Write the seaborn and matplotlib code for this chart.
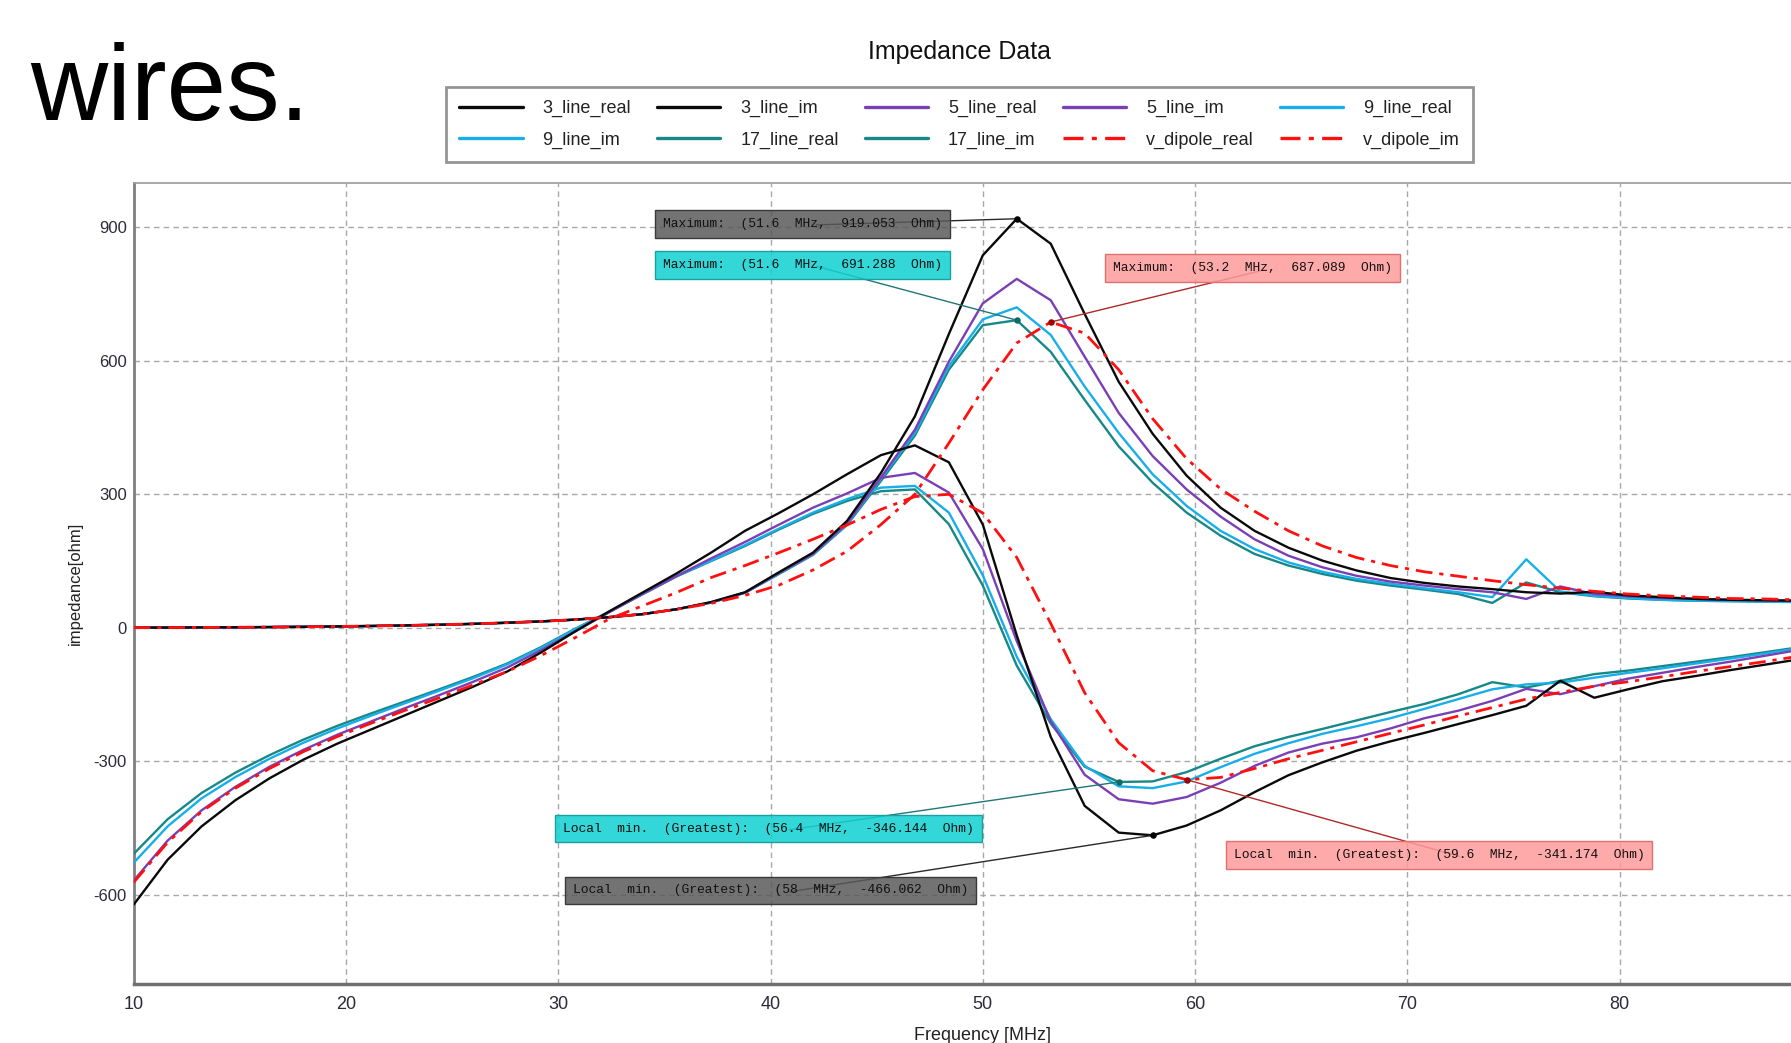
import numpy as np
import pandas as pd
import matplotlib
matplotlib.use("Agg")
import matplotlib.pyplot as plt
import matplotlib.colors as mcolors
from matplotlib import font_manager
import seaborn as sns

# frequency grid [MHz]
freq = [10.0, 11.6, 13.2, 14.8, 16.4, 18.0, 19.6, 21.2, 22.8, 24.4, 26.0, 27.6, 29.2,
        30.8, 32.4, 34.0, 35.6, 37.2, 38.8, 40.4, 42.0, 43.6, 45.2, 46.8, 48.4, 50.0,
        51.6, 53.2, 54.8, 56.4, 58.0, 59.6, 61.2, 62.8, 64.4, 66.0, 67.6, 69.2, 70.8,
        72.4, 74.0, 75.6, 77.2, 78.8, 80.4, 82.0, 83.6, 85.2, 86.8, 88.4, 90.0]

low_real = [0.5, 0.7, 1.0, 1.3, 1.8, 2.4, 3.2, 4.2, 5.5, 7.0, 9.0, 11.5, 14.5, 18.5]

line3_real = low_real + [24, 31, 42, 58, 80, 125, 169, 240, 348, 475, 660, 837, 919.053, 863, 705,
                         553, 436, 342, 270, 218, 180, 151, 129, 112, 101, 93, 87, 80, 77, 81,
                         73, 69, 65, 63, 62, 61, 60]
line3_im = [-622, -521, -446, -387, -338, -296, -260, -228, -196, -164, -132, -98, -55, -8,
            37, 80, 123, 169, 218, 258, 300, 345, 388, 410, 372, 232, -17, -245, -400, -460,
            -466.062, -444, -410, -369, -331, -302, -276, -255, -236, -216, -196, -175, -119,
            -157, -138, -120, -108, -95, -83, -71, -62]

line5_real = low_real + [24, 31, 42, 57, 79, 123, 166, 235, 338, 445, 598, 729, 784, 736, 609,
                         483, 386, 311, 250, 199, 162, 136, 117, 104, 95, 87, 80, 65, 93, 76,
                         71, 67, 65, 63, 62, 61, 60]
line5_im = [-568, -478, -410, -357, -312, -274, -240, -210, -180, -151, -121, -89, -50, -8,
            35, 77, 117, 156, 193, 232, 270, 302, 337, 348, 304, 177, -30, -210, -330, -385,
            -395, -380, -348, -310, -280, -260, -246, -226, -203, -186, -164, -137, -149,
            -131, -114, -101, -88, -76, -63, -50, -42]

line9_real = low_real + [24, 31, 42, 57, 79, 122, 165, 233, 335, 438, 588, 693, 720, 658, 542,
                         438, 345, 274, 218, 177, 147, 126, 110, 99, 89, 80, 69, 154, 82, 72,
                         67, 63, 61, 60, 59, 58, 58]
line9_im = [-528, -446, -383, -335, -294, -258, -226, -197, -169, -141, -113, -82, -45, -3,
            36, 77, 117, 151, 186, 223, 259, 289, 315, 319, 259, 118, -65, -205, -310, -356,
            -360, -345, -313, -283, -259, -238, -221, -203, -182, -160, -138, -127, -123,
            -112, -101, -91, -80, -69, -58, -46, -38]

line17_real = low_real + [24, 31, 42, 57, 79, 121, 164, 231, 330, 432, 580, 680, 691.288, 620,
                          512, 408, 326, 259, 207, 166, 140, 121, 106, 95, 86, 76, 56, 102, 80,
                          71, 66, 63, 61, 60, 59, 58, 57]
line17_im = [-508, -430, -371, -325, -286, -251, -220, -192, -165, -138, -110, -80, -43, -2,
             36, 76, 116, 150, 184, 221, 256, 285, 307, 311, 233, 95, -85, -215, -312,
             -346.144, -345, -324, -294, -266, -245, -227, -208, -189, -171, -149, -122, -134,
             -119, -104, -96, -86, -76, -66, -55, -44, -36]

vdip_real = low_real + [24, 31, 42, 55, 73, 96, 130, 172, 232, 300, 415, 535, 640, 687.089, 662,
                        580, 470, 380, 312, 262, 218, 184, 158, 140, 126, 116, 106, 97, 89, 82,
                        76, 72, 69, 66, 65, 63, 62]
vdip_im = [-572, -482, -413, -360, -316, -278, -244, -214, -185, -157, -128, -98, -62, -22,
           20, 50, 80, 113, 140, 169, 199, 231, 266, 295, 300, 258, 158, 10, -146, -258,
           -321, -341.174, -336, -316, -294, -275, -256, -237, -218, -198, -179, -160, -145,
           -131, -121, -110, -98, -87, -76, -64, -56]

BLACK, PURPLE, CYAN, TEAL, RED = "#0a0a0a", "#7a3fb4", "#18aee8", "#178888", "#ff1010"
DASHDOT = (0, (6, 2.5, 1.5, 2.5))

series = [
    ("3_line_real", line3_real, BLACK, "-", 1.7, 6),
    ("3_line_im", line3_im, BLACK, "-", 1.7, 6),
    ("5_line_real", line5_real, PURPLE, "-", 1.7, 5),
    ("5_line_im", line5_im, PURPLE, "-", 1.7, 5),
    ("9_line_real", line9_real, CYAN, "-", 1.7, 4),
    ("9_line_im", line9_im, CYAN, "-", 1.7, 4),
    ("17_line_real", line17_real, TEAL, "-", 1.7, 3),
    ("17_line_im", line17_im, TEAL, "-", 1.7, 3),
    ("v_dipole_real", vdip_real, RED, DASHDOT, 2.0, 7),
    ("v_dipole_im", vdip_im, RED, DASHDOT, 2.0, 7),
]

sns.set_theme(style="white")
names = {f.name for f in font_manager.fontManager.ttflist}
NARROW = "Liberation Sans Narrow" if "Liberation Sans Narrow" in names else "Liberation Sans"
plt.rcParams["font.family"] = ["Liberation Sans", "DejaVu Sans"]
plt.rcParams["axes.unicode_minus"] = False

fig = plt.figure(figsize=(17.91, 10.43), dpi=100)
fig.patch.set_facecolor("white")
# axes run to 90 MHz, the right part is cut off by the figure edge
ax = fig.add_axes([0.0746, 0.0566, 0.9483, 0.7682])

for name, vals, color, ls, lw, z in series:
    sns.lineplot(x=freq, y=vals, ax=ax, color=color, linestyle=ls, linewidth=lw,
                 label=name, zorder=z)

ax.set_xlim(10, 90)
ax.set_ylim(-800, 1000)
ax.set_xticks(range(10, 81, 10))
ax.set_yticks([-600, -300, 0, 300, 600, 900])
ax.grid(True, color="#a8a8a8", linestyle=(0, (4, 3)), linewidth=1.0)
ax.tick_params(axis="both", length=0)
ax.tick_params(axis="y", pad=5, labelsize=12, labelcolor="#2b2b3a")
ax.tick_params(axis="x", pad=9, labelsize=13, labelcolor="#2b2b3a")
for lab in ax.get_xticklabels():
    lab.set_family(NARROW)

for side in ["left", "bottom", "top", "right"]:
    ax.spines[side].set_visible(True)
ax.spines["left"].set_color("#808080")
ax.spines["left"].set_linewidth(2)
ax.spines["bottom"].set_color("#707070")
ax.spines["bottom"].set_linewidth(2.5)
ax.spines["top"].set_color("#9a9a9a")
ax.spines["top"].set_linewidth(1.2)

ax.set_xlabel("Frequency [MHz]", fontsize=13, family=NARROW, color="#222222")
ax.xaxis.set_label_coords(0.5, -0.064)
ax.xaxis.label.set_va("center")
ax.set_ylabel("impedance[ohm]", fontsize=12, family=NARROW, color="#222222")
ax.yaxis.set_label_coords(-0.0345, 0.5)
ax.yaxis.label.set_va("center")

# annotations: markers derived from the data
mono = "Liberation Mono"


def add_note(text, x, y, tx, ty, face, edge, line, dot):
    ax.scatter([x], [y], s=22, color=dot, zorder=12, linewidths=0)
    ax.annotate(text, xy=(x, y), xytext=(tx, ty), textcoords="data",
                ha="center", va="center", fontsize=9.4, family=mono, color="#111111",
                bbox=dict(boxstyle="square,pad=0.6", fc=mcolors.to_rgba(face, 0.85),
                          ec=edge, lw=1.0),
                arrowprops=dict(arrowstyle="-", color=line, lw=1.0, relpos=(0.55, 0.4),
                                patchA=None, shrinkA=0, shrinkB=0),
                zorder=11)


f_arr = np.array(freq)
notes = [
    (line3_real, "max", (41.5, 908), "#5a5a5a", "#3a3a3a", "#2a2a2a", "#000000"),
    (line17_real, "max", (41.5, 815), "#0fd1d1", "#1b9f9f", "#1f7777", "#0f6a6a"),
    (vdip_real, "max", (62.7, 808), "#ff9b9b", "#e07070", "#b02828", "#a00000"),
    (line17_im, "min", (39.9, -451), "#0fd1d1", "#1b9f9f", "#1f7777", "#0f6a6a"),
    (line3_im, "min", (40.0, -590), "#5a5a5a", "#3a3a3a", "#2a2a2a", "#000000"),
    (vdip_im, "min", (71.5, -511), "#ff9b9b", "#e07070", "#b02828", "#a00000"),
]
for vals, kind, (tx, ty), face, edge, line, dot in notes:
    v = np.array(vals)
    if kind == "max":
        i = int(np.argmax(v))
        label = f"Maximum:  ({f_arr[i]:g}  MHz,  {v[i]:.3f}  Ohm)"
    else:
        mask = f_arr > 50
        i = int(np.where(mask)[0][np.argmin(v[mask])])
        label = f"Local  min.  (Greatest):  ({f_arr[i]:g}  MHz,  {v[i]:.3f}  Ohm)"
    add_note(label, f_arr[i], v[i], tx, ty, face, edge, line, dot)

# legend filled row by row, as in the reference
handles, labels = ax.get_legend_handles_labels()
ax.get_legend().remove()
order = [0, 5, 1, 6, 2, 7, 3, 8, 4, 9]
leg = fig.legend([handles[i] for i in order], [labels[i] for i in order], ncol=5,
                 loc="center", bbox_to_anchor=(959.5 / 1791, 1 - 124.5 / 1043),
                 frameon=True, fancybox=False, edgecolor="#7a7a7a",
                 prop={"family": NARROW, "size": 13}, handlelength=3.5,
                 handletextpad=1.1, columnspacing=1.45, labelspacing=0.8, borderpad=0.75)
leg.get_frame().set_linewidth(2)
for t in leg.get_texts():
    t.set_color("#222222")
for h in leg.get_lines():
    h.set_linewidth(2.4)

fig.text(959.5 / 1791, 1 - 52.5 / 1043, "Impedance Data", ha="center", va="center",
         fontsize=18, color="#111111")
fig.text(30 / 1791, 1 - 120 / 1043, "wires.", ha="left", va="baseline",
         fontsize=86 if NARROW != "Liberation Sans" else 77, family=NARROW, color="black")

fig.savefig("out.png", dpi=100)
